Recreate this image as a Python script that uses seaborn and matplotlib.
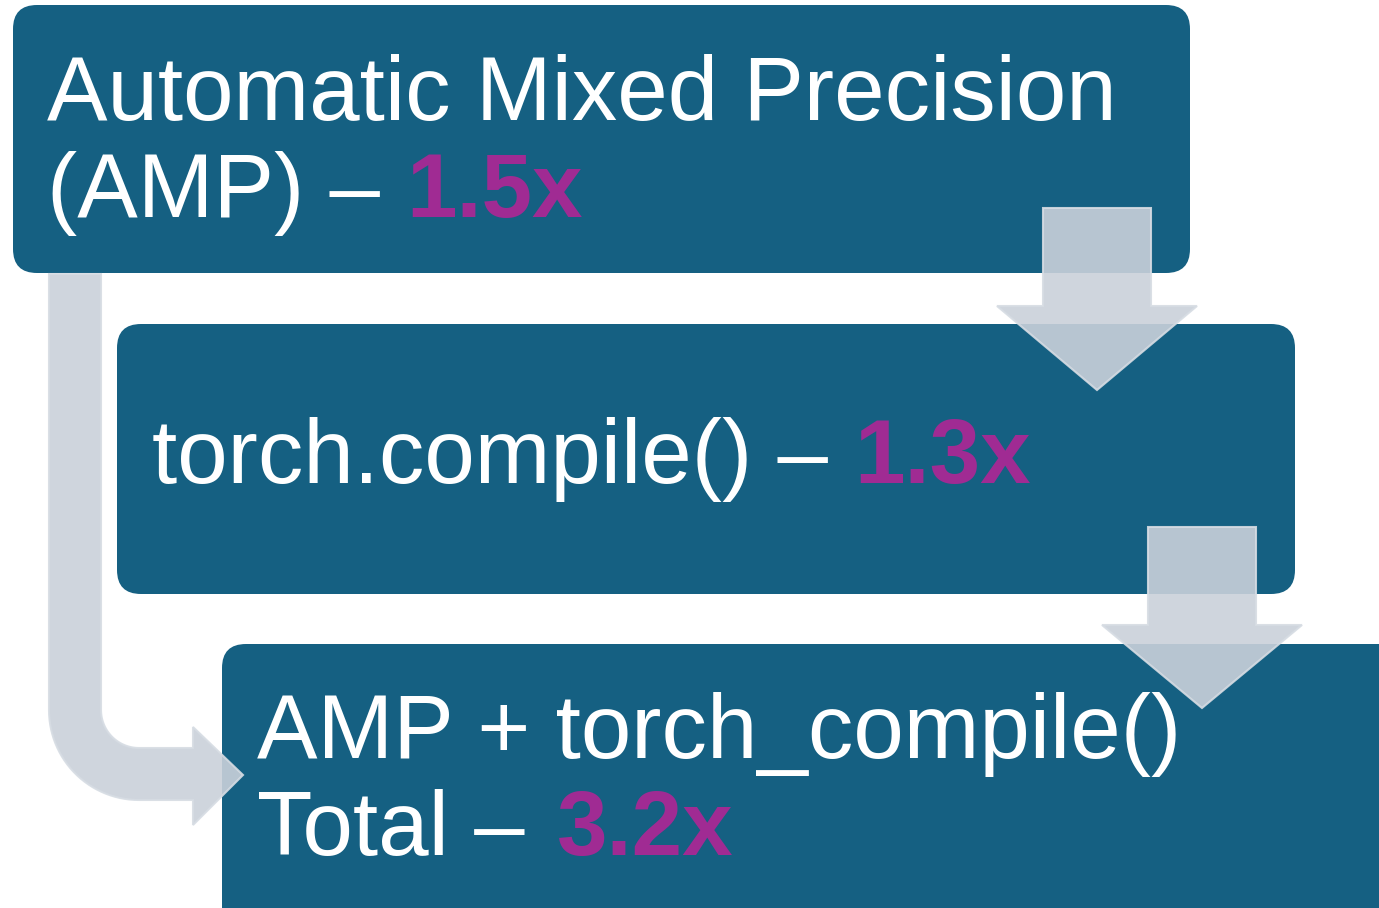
import numpy as np
import seaborn as sns
import matplotlib.pyplot as plt
from matplotlib.patches import FancyBboxPatch, Polygon

# Contenido del diagrama
lineas_caja = [
    ["Automatic Mixed Precision", "(AMP) \u2013 "],
    ["torch.compile() \u2013 "],
    ["AMP + torch_compile()", "Total \u2013 "],
]
aceleraciones = ["1.5x", "1.3x", "3.2x"]

# Colores
azul = "#156082"
magenta = "#A02B93"
flecha = "#CAD1DA"
borde_flecha = "#D6DCE3"

sns.set_theme(style="white")
plt.rcParams['font.family'] = ['Liberation Sans', 'DejaVu Sans']

W, H = 1379, 908
fig = plt.figure(figsize=(W / 100, H / 100), dpi=100)
ax = fig.add_axes([0, 0, 1, 1])
ax.set_xlim(0, W)
ax.set_ylim(H, 0)
ax.axis("off")

# Cajas (x, y, ancho, alto)
cajas = [(13, 5, 1177, 268), (117, 324, 1178, 270), (222, 644, 1200, 300)]
for x, y, w, h in cajas:
    ax.add_patch(FancyBboxPatch((x, y), w, h, boxstyle="round,pad=0,rounding_size=24",
                                facecolor=azul, edgecolor="none", zorder=1))


def flecha_abajo(cx, top, base, tip, sw=54, hw=100):
    pts = [(cx - sw, top), (cx + sw, top), (cx + sw, base), (cx + hw, base),
           (cx, tip), (cx - hw, base), (cx - sw, base)]
    ax.add_patch(Polygon(pts, closed=True, facecolor=flecha, edgecolor=borde_flecha,
                         lw=1.5, alpha=0.9, zorder=3))


flecha_abajo(1097, 208, 306, 390)
flecha_abajo(1202, 527, 625, 708)

# Flecha doblada a la izquierda
cx, cy, R, r = 139, 710, 90, 38
ang = np.linspace(np.pi, np.pi / 2, 30)
ext = [(cx + R * np.cos(a), cy + R * np.sin(a)) for a in ang]
inn = [(cx + r * np.cos(a), cy + r * np.sin(a)) for a in ang[::-1]]
pts = [(49, 274)] + ext + [(193, 800), (193, 825), (243, 775), (193, 727), (193, 748)] + inn + [(101, 274)]
ax.add_patch(Polygon(pts, closed=True, facecolor=flecha, edgecolor=borde_flecha,
                     lw=1.5, alpha=0.9, zorder=3))

# Textos
fs = 65.3
pos_texto = [(47, [120, 217], 1), (152, [483], 1), (257, [758, 855], 7)]
for (x0, bases, dx), lineas, acel in zip(pos_texto, lineas_caja, aceleraciones):
    t = None
    for yb, linea in zip(bases, lineas):
        t = ax.text(x0, yb, linea, color="white", fontsize=fs, va="baseline", ha="left", zorder=4)
    ax.annotate(acel, xy=(1, 0), xycoords=t, xytext=(dx, 0), textcoords="offset pixels",
                va="bottom", ha="left", color=magenta,
                fontsize=fs, fontweight="bold", zorder=4)

fig.savefig("out.png", dpi=100)
